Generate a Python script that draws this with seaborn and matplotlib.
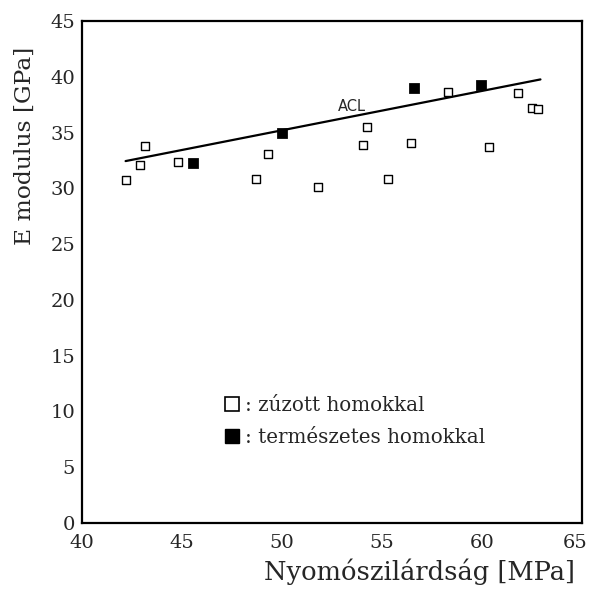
import numpy as np
import pandas as pd
import seaborn as sns
import matplotlib.pyplot as plt
import matplotlib.transforms as mtransforms
from matplotlib.lines import Line2D

# zúzott homokkal (üres négyzetek)
zuzott_x = [42.2, 42.9, 43.17, 44.8, 48.72, 49.3, 51.8, 54.03, 54.27, 55.32,
            56.47, 58.3, 60.37, 61.8, 62.5, 62.82]
zuzott_y = [30.7, 32.1, 33.78, 32.35, 30.8, 33.04, 30.13, 33.87, 35.48, 30.8,
            34.08, 38.65, 33.72, 38.53, 37.19, 37.07]
# természetes homokkal (teli négyzetek)
term_x = [45.53, 50.02, 56.6, 59.95]
term_y = [32.23, 35.0, 38.95, 39.22]
# ACL egyenes végpontjai
acl_x = [42.18, 62.92]
acl_y = [32.44, 39.76]

x_ticks = [40, 45, 50, 55, 60, 65]
y_ticks = [0, 5, 10, 15, 20, 25, 30, 35, 40, 45]

sns.set_style("white")
plt.rcParams["font.family"] = ["DejaVu Serif"]

df_z = pd.DataFrame({"x": zuzott_x, "y": zuzott_y})
df_t = pd.DataFrame({"x": term_x, "y": term_y})
df_acl = pd.DataFrame({"x": acl_x, "y": acl_y})

fig = plt.figure(figsize=(5.89, 5.89), dpi=100)
ax = fig.add_axes([0.1392, 0.1121, 0.849, 0.8523])

sns.lineplot(data=df_acl, x="x", y="y", color="black", linewidth=1.6, ax=ax)
sns.scatterplot(data=df_z, x="x", y="y", marker="s", s=40, facecolor="white",
                edgecolor="black", linewidth=1.0, ax=ax, zorder=3)
sns.scatterplot(data=df_t, x="x", y="y", marker="s", s=48, color="black",
                edgecolor="black", ax=ax, zorder=3)

ax.text(53.5, 37.37, "ACL", family="DejaVu Sans", fontsize=10.5,
        ha="center", va="center")

ax.set_xlim(40, 65)
ax.set_ylim(0, 45)
ax.set_xticks(x_ticks)
ax.set_yticks(y_ticks)
ax.tick_params(axis="x", direction="inout", length=8, width=1.2, labelsize=14, pad=4)
ax.tick_params(axis="y", direction="out", length=4, width=1.2, labelsize=14, pad=1)
for sp in ax.spines.values():
    sp.set_linewidth(1.6)
    sp.set_color("black")

# utolsó x felirat kicsit balra, hogy ne lógjon ki
last = ax.get_xticklabels()[-1]
last.set_transform(last.get_transform() +
                   mtransforms.ScaledTranslation(-7 / 100, 0, fig.dpi_scale_trans))

ax.set_xlabel("Nyomószilárdság [MPa]", fontsize=18.5)
ax.set_ylabel("E modulus [GPa]", fontsize=16.8)
ax.xaxis.set_label_coords(0.674, -0.098)
ax.yaxis.set_label_coords(-0.114, 0.751)
ax.xaxis.label.set_va("center")
ax.yaxis.label.set_va("center")

handles = [
    Line2D([], [], marker="s", linestyle="none", markersize=10.5,
           markerfacecolor="white", markeredgecolor="black", markeredgewidth=1.2),
    Line2D([], [], marker="s", linestyle="none", markersize=10.5,
           markerfacecolor="black", markeredgecolor="black"),
]
ax.legend(handles, [": zúzott homokkal", ": természetes homokkal"],
          loc="center left", bbox_to_anchor=(0.264, 0.202), frameon=False,
          fontsize=14.3, handlelength=0.8, handletextpad=0.25, labelspacing=0.68,
          borderpad=0)

fig.savefig("out.png", dpi=100)
